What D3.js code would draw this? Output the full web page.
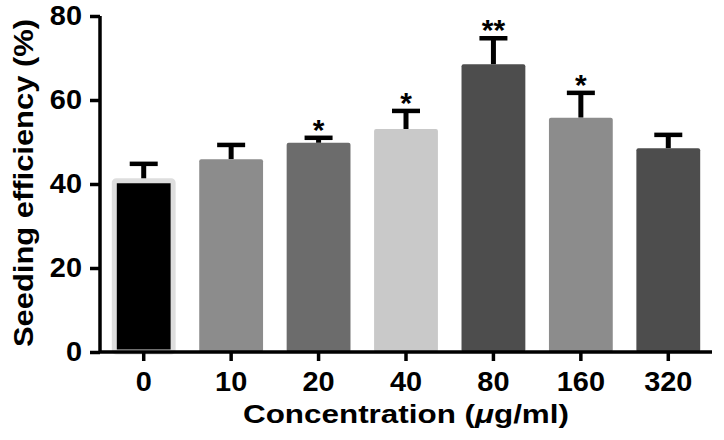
<!DOCTYPE html>
<html>
<script src='https://d3js.org/d3.v7.min.js'></script>
<style>
 body {margin:0; background:#fff;}
 text {font-family: "Liberation Sans", Arial, sans-serif; font-weight: bold;}
</style>
<body>
<svg width=724 height=440></svg>
<script>
// data
const doses = ["0", "10", "20", "40", "80", "160", "320"];
const means = [40.3, 45.9, 49.8, 53.1, 68.5, 55.8, 48.5];
const sems = [4.5, 3.4, 1.2, 4.3, 6.2, 5.9, 3.2];
const stars = ["", "", "*", "*", "**", "*", ""];
const fills = ["#000000", "#8c8c8c", "#6c6c6c", "#c9c9c9", "#4d4d4d", "#8c8c8c", "#4d4d4d"];
const yTicks = [0, 20, 40, 60, 80];

const svg = d3.select("svg");
const x = d3.scaleBand().domain(doses).range([100, 712]).paddingInner(0.27).paddingOuter(0.135);
const y = d3.scaleLinear().domain([0, 80]).range([352, 16]);
const cx = d => x(d.dose) + x.bandwidth() / 2;

const bars = doses.map((d, i) => ({dose: d, m: means[i], e: sems[i], s: stars[i], c: fills[i]}));

// error bars (upper only)
const eb = svg.append("g").selectAll("g").data(bars).enter().append("g");
eb.append("line")
 .attr("x1", cx).attr("x2", cx)
 .attr("y1", d => y(d.m))
 .attr("y2", d => y(d.m + d.e))
 .attr("stroke", "#000").attr("stroke-width", 5);
eb.append("line")
 .attr("x1", d => cx(d) - 14)
 .attr("x2", d => cx(d) + 14)
 .attr("y1", d => y(d.m + d.e))
 .attr("y2", d => y(d.m + d.e))
 .attr("stroke", "#000").attr("stroke-width", 4.5);

// bars
svg.append("g").selectAll("rect").data(bars).enter().append("rect")
 .attr("x", (d, i) => i == 0 ? x(d.dose) + 2.5 : x(d.dose))
 .attr("width", (d, i) => i == 0 ? x.bandwidth() - 5 : x.bandwidth())
 .attr("y", (d, i) => i == 0 ? y(d.m) - 2 : y(d.m))
 .attr("height", (d, i) => y(0) - y(d.m) + (i == 0 ? 2 : 0))
 .attr("rx", 2)
 .attr("fill", d => d.c)
 .attr("stroke", (d, i) => i == 0 ? "#dedede" : "none")
 .attr("stroke-width", 5);

// significance marks
svg.append("g").selectAll("text").data(bars).enter().append("text")
 .attr("x", cx)
 .attr("y", d => y(d.m + d.e) + 2)
 .attr("text-anchor", "middle")
 .style("font-size", "30px")
 .text(d => d.s);

// axes
const yAxis = svg.append("g").attr("transform", "translate(100,0)")
 .call(d3.axisLeft(y).tickValues(yTicks).tickSize(10).tickPadding(8));
const xAxis = svg.append("g").attr("transform", "translate(0,352)")
 .call(d3.axisBottom(x).tickSize(9).tickPadding(11));
xAxis.select(".domain").attr("d", "M100,0H712");
yAxis.select(".domain").attr("d", "M0,16V352");
svg.selectAll(".domain").attr("stroke", "#000").attr("stroke-width", 3.5);
svg.selectAll(".tick line").attr("stroke", "#000").attr("stroke-width", 3.5);
svg.selectAll(".tick text").attr("fill", "#000")
 .style("font-family", "'Liberation Sans', Arial, sans-serif").style("font-weight", "bold")
 .style("font-size", "27px")
 .each(function() {
   // the original digits are a little wider than Liberation Sans
   const w = this.getComputedTextLength();
   d3.select(this).attr("textLength", w * 1.07).attr("lengthAdjust", "spacingAndGlyphs");
 });

// titles
svg.append("text")
 .attr("transform", "translate(33,183) rotate(-90)")
 .attr("text-anchor", "middle")
 .attr("textLength", 328).attr("lengthAdjust", "spacingAndGlyphs")
 .style("font-size", "28px")
 .text("Seeding efficiency (%)");
const xt = svg.append("text")
 .attr("x", 406).attr("y", 423)
 .attr("text-anchor", "middle")
 .attr("textLength", 326).attr("lengthAdjust", "spacingAndGlyphs")
 .style("font-size", "26px");
xt.append("tspan").text("Concentration (");
xt.append("tspan").style("font-style", "italic").text("\u03bc");
xt.append("tspan").text("g/ml)");
</script>
</body>
</html>
